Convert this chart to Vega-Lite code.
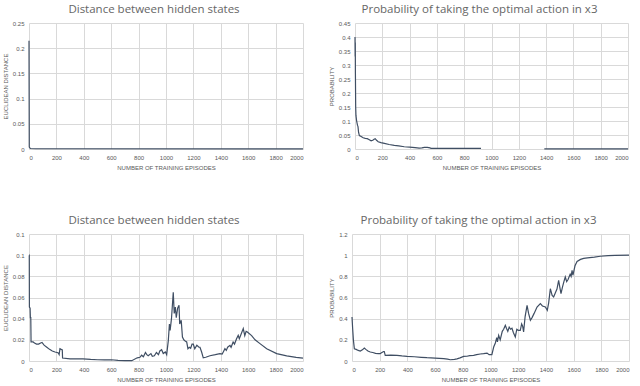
{
  "$schema": "https://vega.github.io/schema/vega-lite/v6.json",
  "padding": {"left": 2, "top": 3, "right": 0, "bottom": 0},
  "datasets": {
    "a": [
      {"x": 0, "y": 0.215}, {"x": 2, "y": 0.004}, {"x": 10, "y": 0.001}, {"x": 50, "y": 0.0005}, {"x": 2000, "y": 0.0003}
    ],
    "b": [
      {"x": 0, "y": 0.40, "s": 1}, {"x": 1, "y": 0.33, "s": 1}, {"x": 2, "y": 0.38, "s": 1}, {"x": 3, "y": 0.27, "s": 1}, {"x": 5, "y": 0.15, "s": 1},
      {"x": 7, "y": 0.12, "s": 1}, {"x": 12, "y": 0.10, "s": 1}, {"x": 18, "y": 0.085, "s": 1}, {"x": 22, "y": 0.08, "s": 1}, {"x": 26, "y": 0.06, "s": 1},
      {"x": 32, "y": 0.048, "s": 1}, {"x": 45, "y": 0.045, "s": 1}, {"x": 60, "y": 0.04, "s": 1}, {"x": 75, "y": 0.038, "s": 1}, {"x": 90, "y": 0.037, "s": 1},
      {"x": 105, "y": 0.033, "s": 1}, {"x": 118, "y": 0.029, "s": 1}, {"x": 130, "y": 0.031, "s": 1}, {"x": 140, "y": 0.035, "s": 1}, {"x": 148, "y": 0.037, "s": 1},
      {"x": 158, "y": 0.031, "s": 1}, {"x": 170, "y": 0.026, "s": 1}, {"x": 190, "y": 0.023, "s": 1}, {"x": 215, "y": 0.02, "s": 1}, {"x": 250, "y": 0.016, "s": 1},
      {"x": 288, "y": 0.013, "s": 1}, {"x": 320, "y": 0.011, "s": 1}, {"x": 361, "y": 0.008, "s": 1}, {"x": 400, "y": 0.007, "s": 1}, {"x": 440, "y": 0.005, "s": 1},
      {"x": 470, "y": 0.003, "s": 1}, {"x": 490, "y": 0.004, "s": 1}, {"x": 508, "y": 0.006, "s": 1}, {"x": 530, "y": 0.006, "s": 1}, {"x": 550, "y": 0.004, "s": 1},
      {"x": 557, "y": 0.002, "s": 1}, {"x": 700, "y": 0.002, "s": 1}, {"x": 923, "y": 0.002, "s": 1},
      {"x": 1387, "y": 0.0005, "s": 2}, {"x": 2000, "y": 0.0005, "s": 2}
    ],
    "c": [
      {"x": 0, "y": 0.1}, {"x": 2, "y": 0.1}, {"x": 3, "y": 0.051}, {"x": 8, "y": 0.05}, {"x": 10, "y": 0.041}, {"x": 13, "y": 0.041}, {"x": 15, "y": 0.018},
      {"x": 30, "y": 0.018}, {"x": 40, "y": 0.017}, {"x": 55, "y": 0.016}, {"x": 70, "y": 0.016}, {"x": 85, "y": 0.017}, {"x": 95, "y": 0.0175},
      {"x": 110, "y": 0.015}, {"x": 130, "y": 0.013}, {"x": 150, "y": 0.011}, {"x": 170, "y": 0.0095}, {"x": 190, "y": 0.0085}, {"x": 205, "y": 0.008},
      {"x": 214, "y": 0.0075}, {"x": 220, "y": 0.006}, {"x": 226, "y": 0.0116}, {"x": 235, "y": 0.011}, {"x": 243, "y": 0.0105}, {"x": 245, "y": 0.0028},
      {"x": 300, "y": 0.002}, {"x": 394, "y": 0.002}, {"x": 450, "y": 0.0015}, {"x": 500, "y": 0.0012}, {"x": 550, "y": 0.001}, {"x": 600, "y": 0.0012},
      {"x": 650, "y": 0.0006}, {"x": 700, "y": 0.0003}, {"x": 750, "y": 0.0003}, {"x": 790, "y": 0.003}, {"x": 810, "y": 0.0035}, {"x": 822, "y": 0.0055},
      {"x": 835, "y": 0.004}, {"x": 850, "y": 0.008}, {"x": 860, "y": 0.006}, {"x": 870, "y": 0.005}, {"x": 890, "y": 0.007}, {"x": 900, "y": 0.0045},
      {"x": 915, "y": 0.005}, {"x": 930, "y": 0.008}, {"x": 945, "y": 0.006}, {"x": 955, "y": 0.0095}, {"x": 968, "y": 0.0107}, {"x": 980, "y": 0.007},
      {"x": 995, "y": 0.0085}, {"x": 1005, "y": 0.006}, {"x": 1017, "y": 0.0195}, {"x": 1025, "y": 0.035}, {"x": 1030, "y": 0.029}, {"x": 1040, "y": 0.04},
      {"x": 1053, "y": 0.065}, {"x": 1060, "y": 0.045}, {"x": 1068, "y": 0.051}, {"x": 1075, "y": 0.041}, {"x": 1085, "y": 0.05}, {"x": 1095, "y": 0.0526},
      {"x": 1100, "y": 0.035}, {"x": 1111, "y": 0.0385}, {"x": 1120, "y": 0.0227}, {"x": 1130, "y": 0.02}, {"x": 1140, "y": 0.019}, {"x": 1151, "y": 0.018},
      {"x": 1160, "y": 0.0116}, {"x": 1170, "y": 0.013}, {"x": 1180, "y": 0.012}, {"x": 1190, "y": 0.016}, {"x": 1199, "y": 0.016}, {"x": 1210, "y": 0.0116},
      {"x": 1225, "y": 0.015}, {"x": 1240, "y": 0.013}, {"x": 1248, "y": 0.013}, {"x": 1260, "y": 0.0085}, {"x": 1272, "y": 0.003}, {"x": 1290, "y": 0.0035},
      {"x": 1321, "y": 0.005}, {"x": 1360, "y": 0.006}, {"x": 1394, "y": 0.007}, {"x": 1410, "y": 0.0065}, {"x": 1420, "y": 0.009}, {"x": 1430, "y": 0.0116},
      {"x": 1440, "y": 0.01}, {"x": 1450, "y": 0.013}, {"x": 1467, "y": 0.0148}, {"x": 1475, "y": 0.013}, {"x": 1490, "y": 0.018}, {"x": 1500, "y": 0.016},
      {"x": 1515, "y": 0.021}, {"x": 1527, "y": 0.0243}, {"x": 1535, "y": 0.021}, {"x": 1550, "y": 0.026}, {"x": 1564, "y": 0.0306}, {"x": 1575, "y": 0.024},
      {"x": 1585, "y": 0.028}, {"x": 1594, "y": 0.0274}, {"x": 1625, "y": 0.024}, {"x": 1650, "y": 0.02}, {"x": 1686, "y": 0.0164}, {"x": 1735, "y": 0.0116},
      {"x": 1808, "y": 0.007}, {"x": 1881, "y": 0.0049}, {"x": 1950, "y": 0.0035}, {"x": 2000, "y": 0.0028}
    ],
    "d": [
      {"x": 0, "y": 0.416}, {"x": 5, "y": 0.3}, {"x": 10, "y": 0.2}, {"x": 17, "y": 0.116}, {"x": 30, "y": 0.11}, {"x": 45, "y": 0.1}, {"x": 60, "y": 0.094},
      {"x": 75, "y": 0.105}, {"x": 89, "y": 0.123}, {"x": 100, "y": 0.11}, {"x": 115, "y": 0.095}, {"x": 132, "y": 0.085}, {"x": 150, "y": 0.08},
      {"x": 170, "y": 0.072}, {"x": 190, "y": 0.07}, {"x": 204, "y": 0.069}, {"x": 210, "y": 0.075}, {"x": 228, "y": 0.09}, {"x": 233, "y": 0.09},
      {"x": 240, "y": 0.054}, {"x": 280, "y": 0.055}, {"x": 325, "y": 0.054}, {"x": 360, "y": 0.048}, {"x": 397, "y": 0.044}, {"x": 450, "y": 0.04},
      {"x": 500, "y": 0.035}, {"x": 541, "y": 0.031}, {"x": 600, "y": 0.027}, {"x": 662, "y": 0.022}, {"x": 690, "y": 0.018}, {"x": 710, "y": 0.012},
      {"x": 740, "y": 0.015}, {"x": 758, "y": 0.02}, {"x": 780, "y": 0.03}, {"x": 806, "y": 0.044}, {"x": 830, "y": 0.045}, {"x": 850, "y": 0.05},
      {"x": 878, "y": 0.054}, {"x": 900, "y": 0.06}, {"x": 926, "y": 0.066}, {"x": 950, "y": 0.07}, {"x": 975, "y": 0.075}, {"x": 990, "y": 0.06},
      {"x": 1010, "y": 0.06}, {"x": 1023, "y": 0.132}, {"x": 1035, "y": 0.17}, {"x": 1045, "y": 0.22}, {"x": 1050, "y": 0.18}, {"x": 1059, "y": 0.243},
      {"x": 1070, "y": 0.2}, {"x": 1085, "y": 0.28}, {"x": 1095, "y": 0.3}, {"x": 1107, "y": 0.337}, {"x": 1115, "y": 0.31}, {"x": 1125, "y": 0.28},
      {"x": 1135, "y": 0.32}, {"x": 1145, "y": 0.3}, {"x": 1155, "y": 0.31}, {"x": 1165, "y": 0.27}, {"x": 1179, "y": 0.227}, {"x": 1190, "y": 0.3},
      {"x": 1200, "y": 0.29}, {"x": 1215, "y": 0.29}, {"x": 1225, "y": 0.35}, {"x": 1232, "y": 0.33}, {"x": 1239, "y": 0.274}, {"x": 1250, "y": 0.42},
      {"x": 1264, "y": 0.526}, {"x": 1275, "y": 0.45}, {"x": 1288, "y": 0.385}, {"x": 1300, "y": 0.41}, {"x": 1315, "y": 0.45}, {"x": 1336, "y": 0.51},
      {"x": 1360, "y": 0.542}, {"x": 1375, "y": 0.52}, {"x": 1396, "y": 0.51}, {"x": 1410, "y": 0.479}, {"x": 1420, "y": 0.55}, {"x": 1432, "y": 0.683},
      {"x": 1445, "y": 0.62}, {"x": 1456, "y": 0.605}, {"x": 1470, "y": 0.65}, {"x": 1480, "y": 0.68}, {"x": 1492, "y": 0.762}, {"x": 1500, "y": 0.7},
      {"x": 1509, "y": 0.636}, {"x": 1520, "y": 0.7}, {"x": 1530, "y": 0.75}, {"x": 1540, "y": 0.794}, {"x": 1550, "y": 0.75}, {"x": 1560, "y": 0.77},
      {"x": 1575, "y": 0.82}, {"x": 1582, "y": 0.8}, {"x": 1589, "y": 0.857}, {"x": 1595, "y": 0.81}, {"x": 1610, "y": 0.9}, {"x": 1625, "y": 0.94},
      {"x": 1650, "y": 0.96}, {"x": 1673, "y": 0.97}, {"x": 1700, "y": 0.975}, {"x": 1750, "y": 0.982}, {"x": 1793, "y": 0.99}, {"x": 1850, "y": 0.995},
      {"x": 1900, "y": 0.998}, {"x": 2000, "y": 1.0}
    ]
  },
  "vconcat": [
    {
      "spacing": 22,
      "hconcat": [
        {
          "width": 274, "height": 126,
          "title": "Distance between hidden states",
          "data": {"name": "a"},
          "mark": "line",
          "encoding": {
            "x": {"field": "x", "type": "quantitative", "scale": {"domain": [0, 2000], "nice": false}, "axis": {"title": "NUMBER OF TRAINING EPISODES", "values": [0,200,400,600,800,1000,1200,1400,1600,1800,2000], "format": "d"}},
            "y": {"field": "y", "type": "quantitative", "scale": {"domain": [0, 0.25], "nice": false}, "axis": {"title": "EUCLIDEAN DISTANCE", "values": [0,0.05,0.1,0.15,0.2,0.25], "format": "~g"}}
          }
        },
        {
          "width": 273, "height": 126,
          "title": "Probability of taking the optimal action in x3",
          "data": {"name": "b"},
          "mark": "line",
          "encoding": {
            "x": {"field": "x", "type": "quantitative", "scale": {"domain": [0, 2000], "nice": false}, "axis": {"title": "NUMBER OF TRAINING EPISODES", "values": [0,200,400,600,800,1000,1200,1400,1600,1800,2000], "format": "d"}},
            "y": {"field": "y", "type": "quantitative", "scale": {"domain": [0, 0.45], "nice": false}, "axis": {"title": "PROBABILITY", "values": [0,0.05,0.1,0.15,0.2,0.25,0.3,0.35,0.4,0.45], "format": "~g"}},
            "detail": {"field": "s", "type": "nominal"}
          }
        }
      ]
    },
    {
      "spacing": 22,
      "hconcat": [
        {
          "width": 274, "height": 127,
          "title": "Distance between hidden states",
          "data": {"name": "c"},
          "mark": "line",
          "encoding": {
            "x": {"field": "x", "type": "quantitative", "scale": {"domain": [0, 2000], "nice": false}, "axis": {"title": "NUMBER OF TRAINING EPISODES", "values": [0,200,400,600,800,1000,1200,1400,1600,1800,2000], "format": "d"}},
            "y": {"field": "y", "type": "quantitative", "scale": {"domain": [0, 0.12], "nice": false}, "axis": {"title": "EUCLIDEAN DISTANCE", "values": [0,0.02,0.04,0.06,0.08,0.1,0.12], "format": "~g"}}
          }
        },
        {
          "width": 277, "height": 127,
          "title": "Probability of taking the optimal action in x3",
          "data": {"name": "d"},
          "mark": "line",
          "encoding": {
            "x": {"field": "x", "type": "quantitative", "scale": {"domain": [0, 2000], "nice": false}, "axis": {"title": "NUMBER OF TRAINING EPISODES", "values": [0,200,400,600,800,1000,1200,1400,1600,1800,2000], "format": "d"}},
            "y": {"field": "y", "type": "quantitative", "scale": {"domain": [0, 1.2], "nice": false}, "axis": {"title": "PROBABILITY", "values": [0,0.2,0.4,0.6,0.8,1,1.2], "format": "~g"}}
          }
        }
      ]
    }
  ],
  "spacing": 44,
  "config": {
    "view": {"stroke": null},
    "axis": {
      "grid": true, "gridColor": "#d9d9d9", "gridWidth": 1, "domain": false, "ticks": false,
      "labelFont": "Liberation Sans", "labelFontSize": 6, "labelColor": "#595959", "labelPadding": 5,
      "titleFont": "Liberation Sans", "titleFontSize": 6, "titleFontWeight": "normal", "titleColor": "#595959", "titlePadding": 4
    },
    "title": {"font": "Open Sans", "fontSize": 11.5, "fontWeight": "normal", "color": "#666666", "frame": "group", "anchor": "middle", "offset": 5, "dx": -12},
    "line": {"color": "#3f4e63", "strokeWidth": 1.2}
  }
}
